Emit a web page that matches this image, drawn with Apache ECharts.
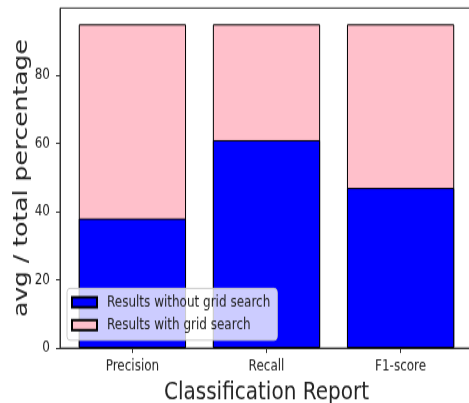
<!DOCTYPE html>
<html>
<head>
<meta charset="utf-8">
<script src="https://cdn.jsdelivr.net/npm/echarts@6/dist/echarts.min.js"></script>
<style>
	html, body { margin: 0; padding: 0; background: #fff; }
	body { width: 469px; height: 403px; overflow: visible; }
	/* the reference figure is stretched vertically, so the chart is drawn shorter and scaled */
	#chart { width: 469px; height: 322px; transform: scale(1, 1.2516); transform-origin: 0 0; }
</style>
</head>
<body>
<div id="chart"></div>
<script>
const categories = ["Precision", "Recall", "F1-score"];
const withoutGridSearch = [38, 61, 47];
const withGridSearch = [95, 95, 95];
const yTicks = [0, 20, 40, 60, 80];
const catTicks = [0, 1, 2];

const FONT = "DejaVu Sans";
const TEXT = "#222";
const LINE = "#333";

function Chart(dom) {
	var myChart = echarts.init(dom, null, {
		renderer: "canvas",
		useDirtyRect: false
	});
	var option = {
		animation: false,
		textStyle: { fontFamily: FONT },
		grid: {
			left: 60,
			right: -4,
			top: 6.4,
			bottom: 43.9,
			outerBoundsMode: "none",
			containLabel: false,
			show: true,
			borderColor: LINE,
			borderWidth: 1,
			backgroundColor: "transparent"
		},
		legend: {
			orient: "vertical",
			left: 67,
			top: 230.4,
			data: ["Results without grid search", "Results with grid search"],
			icon: "rect",
			itemWidth: 25,
			itemHeight: 8,
			itemGap: 6.4,
			padding: [5, 7, 6, 4],
			backgroundColor: "rgba(255,255,255,0.8)",
			borderColor: "#ccc",
			borderWidth: 1,
			borderRadius: 3,
			textStyle: {
				fontFamily: FONT,
				fontSize: 12,
				color: TEXT,
				padding: [0, 0, 0, 5]
			}
		},
		xAxis: {
			type: "value",
			min: -0.54,
			max: 2.54,
			splitLine: { show: false },
			axisLine: { show: true, onZero: false, lineStyle: { color: LINE, width: 1 } },
			axisTick: {
				show: true,
				customValues: catTicks,
				length: 4,
				lineStyle: { color: LINE }
			},
			axisLabel: {
				customValues: catTicks,
				formatter: function (v) {
					return categories[v];
				},
				margin: 9,
				fontFamily: FONT,
				fontSize: 12,
				color: TEXT
			},
			name: "Classification Report",
			nameLocation: "middle",
			nameGap: 26,
			nameMoveOverlap: false,
			nameTextStyle: { fontFamily: FONT, fontSize: 20, color: TEXT }
		},
		yAxis: {
			type: "value",
			min: 0,
			max: 99.75,
			splitLine: { show: false },
			axisLine: { show: true, onZero: false, lineStyle: { color: LINE, width: 1 } },
			axisTick: {
				show: true,
				customValues: yTicks,
				length: 4,
				lineStyle: { color: LINE }
			},
			axisLabel: {
				customValues: yTicks,
				margin: 10,
				fontFamily: FONT,
				fontSize: 12,
				color: TEXT
			},
			name: "avg / total percentage",
			nameLocation: "middle",
			nameGap: 28,
			nameMoveOverlap: false,
			nameTextStyle: { fontFamily: FONT, fontSize: 20, color: TEXT }
		},
		series: [
			{
				name: "Results with grid search",
				type: "bar",
				barWidth: "80%",
				barGap: "-100%",
				data: withGridSearch.map(function (v, i) { return [i, v]; }),
				itemStyle: { color: "#FFC0CB", borderColor: "#000", borderWidth: 1 }
			},
			{
				name: "Results without grid search",
				type: "bar",
				barWidth: "80%",
				barGap: "-100%",
				data: withoutGridSearch.map(function (v, i) { return [i, v]; }),
				itemStyle: { color: "#0000FF", borderColor: "#000", borderWidth: 1 }
			}
		]
	};
	myChart.setOption(option);
	window.addEventListener("resize", myChart.resize);
}

Chart(document.getElementById("chart"));
</script>
</body>
</html>
